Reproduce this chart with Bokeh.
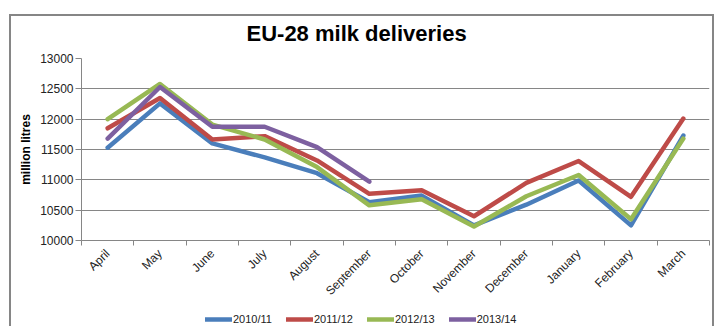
import math
from bokeh.plotting import figure
from bokeh.layouts import column
from bokeh.models import (FactorRange, Range1d, LinearAxis, FixedTicker, Legend, LegendItem,
                          ColumnDataSource, InlineStyleSheet)
from bokeh.embed import file_html
from bokeh.resources import INLINE

months = ["April", "May", "June", "July", "August", "September", "October",
          "November", "December", "January", "February", "March"]
series_names = ["2010/11", "2011/12", "2012/13", "2013/14"]
s2010 = [11530, 12260, 11600, 11370, 11110, 10630, 10740, 10250, 10590, 10990, 10250, 11730]
s2011 = [11850, 12350, 11665, 11720, 11320, 10770, 10830, 10400, 10950, 11310, 10720, 12010]
s2012 = [12000, 12580, 11910, 11665, 11210, 10580, 10680, 10230, 10730, 11080, 10350, 11680]
s2013 = [11680, 12530, 11875, 11875, 11540, 10970]
y_ticks = [10000, 10500, 11000, 11500, 12000, 12500, 13000]

colors = ["#4A7EBB", "#BE4B48", "#98B954", "#7D60A0"]
FONT = "Liberation Sans"
GRAY = "#868686"

p = figure(width=716, height=306, output_backend="svg", toolbar_location=None,
           x_range=FactorRange(factors=months, range_padding=0),
           y_range=Range1d(y_ticks[0], y_ticks[-1]),
           x_axis_type=None,
           min_border_left=81, min_border_right=7, min_border_top=58, min_border_bottom=66)
p.outline_line_color = None
p.background_fill_color = "white"
p.border_fill_alpha = 0

p.title.text = "EU-28 milk deliveries"
p.title.text_font = FONT
p.title.text_font_size = "22px"
p.title.text_font_style = "bold"
p.title.text_color = "black"
p.title.align = "left"
p.title.offset = 165
p.title.standoff = 25

# x axis: linear axis over the factor range (labels at category centres, ticks on boundaries)
centres = [i + 0.5 for i in range(len(months))]
xaxis = LinearAxis(ticker=FixedTicker(ticks=centres, minor_ticks=list(range(len(months) + 1))),
                   major_label_overrides={c: m for c, m in zip(centres, months)})
xaxis.major_tick_line_color = None
xaxis.major_tick_out = 5
xaxis.minor_tick_line_color = GRAY
xaxis.minor_tick_out = 5
xaxis.minor_tick_in = 0
xaxis.axis_line_color = GRAY
xaxis.major_label_orientation = math.pi / 4
xaxis.major_label_text_font = FONT
xaxis.major_label_text_font_size = "12px"
xaxis.major_label_text_color = "#222222"
xaxis.major_label_standoff = 6
p.add_layout(xaxis, "below")

yaxis = p.yaxis[0]
yaxis.ticker = FixedTicker(ticks=y_ticks)
yaxis.minor_tick_line_color = None
yaxis.major_tick_in = 0
yaxis.major_tick_out = 6
yaxis.major_tick_line_color = GRAY
yaxis.axis_line_color = GRAY
yaxis.major_label_text_font = FONT
yaxis.major_label_text_font_size = "12px"
yaxis.major_label_text_color = "#222222"
yaxis.major_label_standoff = 2
yaxis.axis_label = "million litres"
yaxis.axis_label_text_font = FONT
yaxis.axis_label_text_font_size = "12px"
yaxis.axis_label_text_font_style = "bold"
yaxis.axis_label_text_color = "black"
yaxis.axis_label_standoff = 4

p.xgrid.visible = False
p.ygrid.ticker = FixedTicker(ticks=y_ticks)
p.ygrid.grid_line_color = GRAY
p.ygrid.grid_line_width = 1

all_series = [s2010, s2011, s2012, s2013]
for vals, col in zip(all_series, colors):
    src = ColumnDataSource(dict(x=months[:len(vals)], y=vals))
    p.line("x", "y", source=src, line_color=col, line_width=4.5,
           line_join="round", line_cap="round")

# legend strip (separate small figure under the chart; its series lie outside its view)
lg = figure(width=716, height=20, output_backend="svg", toolbar_location=None,
            x_range=FactorRange(factors=months, range_padding=0), y_range=Range1d(0, 1),
            x_axis_type=None, y_axis_type=None,
            min_border_left=0, min_border_right=0, min_border_top=0, min_border_bottom=0)
lg.outline_line_color = None
lg.background_fill_alpha = 0
lg.border_fill_alpha = 0
lg.xgrid.visible = False
lg.ygrid.visible = False

items = []
for name, vals, col in zip(series_names, all_series, colors):
    r = lg.line(x=months[:len(vals)], y=vals, line_color=col, line_width=4.5, line_cap="round")
    items.append(LegendItem(label=name, renderers=[r]))

legend = Legend(items=items, orientation="horizontal", location=(124, 1),
                label_text_font=FONT, label_text_font_size="11px", label_text_color="#222222",
                glyph_width=27, glyph_height=12, label_standoff=1, spacing=14,
                padding=0, margin=0, background_fill_alpha=0, border_line_color=None,
                label_height=12)
lg.add_layout(legend, "center")

# chart-area frame (left, top and right edges) drawn as inset shadows of the plot elements
p.stylesheets = [InlineStyleSheet(css="""
:host {
  background: #ffffff;
  box-shadow: inset 9px 0 0 0 #ffffff, inset 0 14px 0 0 #ffffff, inset -2px 0 0 0 #ffffff,
              inset 11px 0 0 0 #868686, inset 0 16px 0 0 #868686, inset -4px 0 0 0 #868686;
}
""")]
lg.stylesheets = [InlineStyleSheet(css="""
:host {
  background: #ffffff;
  box-shadow: inset 9px 0 0 0 #ffffff, inset -2px 0 0 0 #ffffff,
              inset 11px 0 0 0 #868686, inset -4px 0 0 0 #868686;
}
""")]

page = column(p, lg, spacing=0)
open("out.html", "w").write(file_html(page, INLINE))
